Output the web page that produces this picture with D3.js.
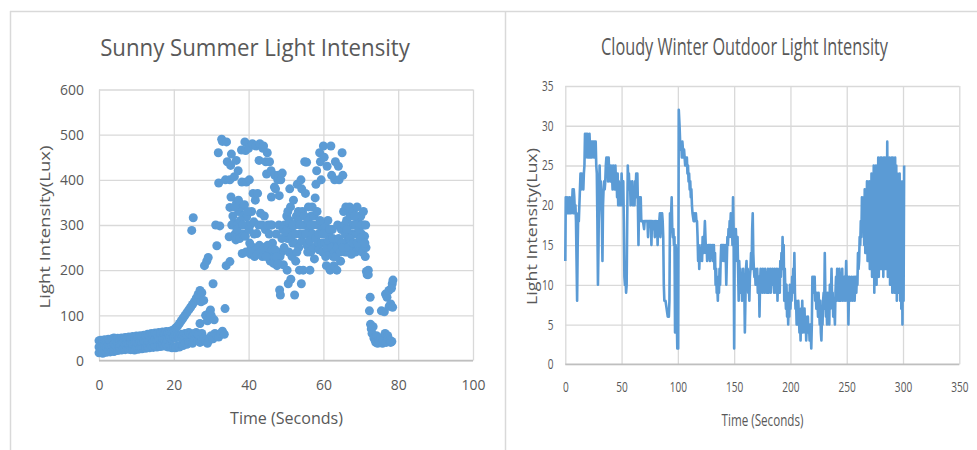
<!DOCTYPE html>
<html><head><meta charset="utf-8">
<script src="https://cdn.jsdelivr.net/npm/d3@7"></script>
<style>body{margin:0;background:#fff}svg{display:block}text{font-family:"Open Sans",sans-serif;fill:#595959}</style>
</head><body><svg id="c" width="977" height="450"></svg>
<script>
// ---- Sunny summer scatter data: [time (s), lux] ----
const sunnyEarly = [
[0,17],[0,30],[0,44],[0.5,20],[0.5,35],[0.5,45],[1,16],[1,28],[1,42],[1.5,22],[1.5,33],[1.5,46],
[2,18],[2,30],[2,43],[2.5,21],[2.5,36],[2.5,47],[3,19],[3,31],[3,44],[3.5,23],[3.5,34],[3.5,48],
[4,20],[4,37],[4,50],[4.5,24],[4.5,33],[4.5,46],[5,22],[5,38],[5,49],[5.5,25],[5.5,34],[5.5,47],
[6,23],[6,36],[6,50],[6.5,26],[6.5,39],[6.5,48],[7,24],[7,35],[7,51],[7.5,27],[7.5,38],[7.5,49],
[8,25],[8,36],[8,52],[8.5,24],[8.5,40],[8.5,50],[9,26],[9,37],[9,53],[9.5,23],[9.5,39],[9.5,51],
[10,27],[10,41],[10,54],[10.5,25],[10.5,38],[10.5,52],[11,28],[11,42],[11,55],[11.5,26],[11.5,40],[11.5,53],
[12,29],[12,43],[12,56],[12.5,27],[12.5,41],[12.5,55],[13,30],[13,44],[13,58],[13.5,28],[13.5,42],[13.5,57],
[14,31],[14,45],[14,60],[14.5,29],[14.5,43],[14.5,58],[15,32],[15,46],[15,61],[15.5,30],[15.5,44],[15.5,59],
[16,33],[16,47],[16,62],[16.5,31],[16.5,45],[16.5,60],[17,34],[17,48],[17,63],[17.5,32],[17.5,46],[17.5,61],
[18,35],[18,49],[18,64],[18.5,30],[18.5,47],[18.5,62],[19,33],[19,50],[19,65],[19.5,28],[19.5,48],[19.5,66],
[20,30],[20,52],[20,68]
];
const sunnyRise = [
[20.5,28],[20.5,50],[20.5,72],[21,32],[21,55],[21,76],[21.5,30],[21.5,52],[21.5,82],[22,35],[22,58],[22,88],
[22.5,33],[22.5,55],[22.5,94],[23,38],[23,60],[23,100],[23.5,36],[23.5,57],[23.5,106],[24,40],[24,62],[24,112],
[24.5,42],[24.5,58],[24.5,118],[24.8,288],[25,38],[25,55],[25,124],[25.2,316],[25.5,45],[25.5,60],[25.5,130],
[26,48],[26,62],[26,138],[26.5,44],[26.5,58],[26.5,146],[27,40],[27,82],[27,155],[27.3,130],[27.5,45],[27.5,60],
[27.5,150],[28,50],[28,133],[28.2,210],[28.5,42],[28.5,100],[28.8,220],[29,38],[29,88],[29.2,228],[29.5,45],
[29.5,106],[29.8,112],[30,55],[30,100],[30.5,170],[30.5,48],[30.8,90],[31,60],[31.2,300],[31.5,254],[31.5,55],
[32,52],[32,393],[31.9,460],[32.3,298],[32.5,60],[32.8,490],[33,65],[33,485],[33.5,58],[33.7,115],[33.8,400],
[34,210],[34.1,484],[34.3,440]
];
const sunnyPeak = [
[35,400],[35.2,432],[35.4,457],[35,339],[35.3,362],[34.8,274],[35,219],[35.5,300],
[36,304],[36.2,407],[36.4,280],[36.6,267],[36.7,443],[36.8,350],[37,300],[37.2,420],[37.4,330],[37.6,270],
[38,340],[38.2,395],[38.1,466],[38.3,237],[38.5,280],[38.7,320],
[39,484],[39.2,465],[39.4,395],[39.5,318],[39.3,240],[39.8,300],
[40,470],[40.2,400],[40.4,300],[40.3,260],[40.6,235],[40.8,330],
[41,480],[41.2,370],[41.4,307],[41.3,250],[41.6,230],[41.8,355],
[42,475],[42.2,281],[42.4,370],[42.5,250],[42.8,443],[42.7,300],
[43,480],[43.2,326],[43.4,250],[43.6,300],[43.8,470],
[44,475],[44.2,320],[44.4,240],[44.6,440],[44.8,413],[44.5,290],
[45,460],[45.2,300],[45.4,240],[45.6,440],[45.8,220],
[46,420],[46.2,300],[46.4,260],[46.6,230],[46.1,362],[46.9,384],
[47,410],[47.2,380],[47.4,280],[47.6,210],[47.8,400],
[48,410],[48.2,365],[48.4,230],[48.3,156],[48.6,400],[48.5,145],[48.8,240],[49,415],[49.3,212],[49.6,300],
[50,300],[50.2,320],[50.4,270],[50.3,200],[50.6,170],[50.8,240],
[51,380],[51.2,340],[51.4,290],[51.6,230],[51.3,180],[51.8,260],
[52,355],[52.2,300],[52.4,260],[52.6,220],[52.3,145],[52.8,320],
[53,390],[53.2,310],[53.4,250],[53.6,200],[53.8,280],
[54,400],[54.2,380],[54.4,330],[54.3,265],[54.1,170],[54.6,200],[54.8,300],
[55,440],[55.2,370],[55.4,300],[55.6,255],[55.8,240],[55.5,439],
[56,340],[56.2,290],[56.4,200],[56.6,240],[56.8,320],
[57,340],[57.2,300],[57.4,250],[57.6,225],[57.8,360],
[58,390],[58.2,420],[58.4,300],[58.6,260],[58.8,245],
[59,460],[59.2,440],[59.4,400],[59.6,290],[59.8,240],
[60,475],[60.2,450],[60.4,300],[60.6,230],[60.8,210],
[61,430],[61.2,310],[61.4,280],[61.6,240],[61.8,200],
[62,475],[62.2,410],[62.4,290],[62.6,230],[62.8,210],
[63,400],[63.2,440],[63.4,260],[63.6,200],[63.8,300],
[64,430],[64.2,400],[64.4,250],[64.6,220],[64.8,290],
[65,460],[65.2,410],[65.4,330],[65.6,300],[65.8,240],[65.5,260],
[66,340],[66.2,310],[66.4,240],[66.6,270],[66.8,330],
[67,340],[67.2,320],[67.4,250],[67.6,280],[67.8,300],
[68,330],[68.2,300],[68.4,260],[68.6,240],[68.8,280],
[69,340],[69.2,310],[69.4,280],[69.6,250],[69.8,320],
[70,320],[70.2,280],[70.4,240],[70.6,260],[70.8,300],
[71,275],[71.2,230],[71.4,250],[71.5,197],[71.7,190]
];
const sunnyFill = [
[35.8,320],[36.3,340],[36.9,290],[37.3,355],[37.8,310],[38.4,300],[38.9,345],[39.1,275],[39.7,330],[40.1,290],
[40.7,250],[41.1,240],[41.5,280],[41.9,245],[42.3,235],[42.9,255],[43.3,240],[43.7,230],[44.1,250],[44.7,230],
[45.1,255],[45.5,280],[45.9,300],[46.3,245],[46.7,215],[47.1,245],[47.5,230],[47.9,215],[48.1,300],[48.9,270],
[49.2,290],[49.5,250],[49.9,285],[50.5,330],[50.9,310],[51.5,275],[51.9,300],[52.5,280],[52.9,240],[53.3,330],
[53.7,300],[54.5,280],[54.9,320],[55.3,280],[55.9,310],[56.3,265],[56.7,300],[57.1,280],[57.5,320],[57.9,270],
[58.3,330],[58.7,280],[59.1,310],[59.5,260],[59.9,280],[60.3,260],[60.9,250],[61.3,265],[61.7,290],[62.1,250],
[62.5,270],[62.9,240],[63.3,230],[63.7,250],[64.1,270],[64.5,240],[64.9,260],[65.3,250],[65.9,280],[66.3,290],
[66.7,250],[67.1,270],[67.5,235],[67.9,260],[68.3,320],[68.7,300],[69.1,260],[69.5,290],[69.9,270],[70.3,300],
[70.7,330],[71.1,260],[71.3,300]
];
const sunnyFall = [
[72,190],[72,200],[72.5,140],[72.3,110],[72.6,80],[72.8,70],[73,60],[73.3,75],[73.5,50],[73.8,45],[74,40],
[74.2,55],[74.5,38],[74.8,45],[75,40],[75.3,50],[75.5,110],[75.8,38],[76,45],[76.3,108],[76.5,60],[76.6,147],
[76.8,40],[77,140],[77.2,55],[77.3,48],[77.5,155],[77.6,120],[77.8,45],[78,40],[78,125],[78.2,160],[78.4,170],
[78.6,178],[78.5,118],[78.3,42]
];
const sunnyXTicks = [0,20,40,60,80,100];
const sunnyYTicks = [0,100,200,300,400,500,600];

// ---- Cloudy winter line data: [time (s), lux] ----
const cloudyA = [
[0,13],[0.4,21],[1,19],[1.5,21],[2,19],[2.5,20],[3,19],[3.5,21],[4,19],[4.5,20],[5,19],[5.5,21],[6,20],[6.5,22],
[7,19],[7.5,22],[8,21],[8.5,19],[9,20],[9.5,18],[10,13],[10.5,8],[11,15],[11.5,19],[12,18],[12.5,20],[13,22],
[13.5,24],[14,22],[14.5,24],[15,23],[15.5,24],[16,22],[16.5,24],[17,25],[17.5,29],[18,26],[18.5,29],[19,27],
[19.5,29],[20,26],[20.5,28],[21,26],[21.5,29],[22,27],[22.5,26],[23,28],[23.5,26],[24,28],[24.5,27],[25,28],
[25.5,26],[26,28],[26.5,27],[27,28],[27.5,25],[28,24],[28.5,18],[29,10],[29.5,15],[30,22],[30.5,25],[31,21],
[31.5,23],[32,20],[32.5,18],[33,13],[33.5,20],[34,22],[34.5,23],[35,22],[35.5,23],[36,25],[36.5,26],[37,24],
[37.5,26],[38,23],[38.5,26],[39,24],[39.5,25],[40,23],[40.5,25],[41,23],[41.5,24],[42,22],[42.5,25],[43,23],
[43.5,24],[44,22],[44.5,25],[45,23],[45.5,24],[46,21],[46.5,24],[47,20],[47.5,23],[48,21],[48.5,20],[49,22],
[49.5,20],[50,24],[50.5,22],[51,20],[51.5,23],[52,18],[52.5,11],[53,10],[53.5,11],[54,9],[54.5,10],[55,18],
[55.5,25],[56,23],[56.5,24],[57,22],[57.5,23],[58,20],[58.5,22],[59,21],[59.5,23],[60,20],[60.5,22],[61,21],
[61.5,20],[62,23],[62.5,22],[63,24],[63.5,21],[64,24],[64.5,20],[65,15],[65.5,20],[66,21],[66.5,20],[67,21],
[67.5,18],[68,18],[69,18],[70,17],[70.5,18],[72,18],[73,18],[73.5,16],[74,18],[75,18],[76,18],[76.5,15],
[77,18],[78,17],[79,18],[79.5,16],[80,18],[81,17],[81.5,18],[82,15],[82.5,18],[83,17],[84,19],[84.5,16],
[85,19],[85.5,17],[86,19],[86.5,18],[87,16],[87.5,10],[88,8],[89,8],[90,7],[91,6],[92,6],[92.5,8],[93,19],
[93.5,18],[94,19],[94.5,21],[95,17],[95.5,16],[96,17],[96.5,15],[97,16],[97.5,4],[98,15],[98.5,14],[99,6],
[99.5,2],[100.3,2]
];
const cloudyB = [
[100.8,32],[101.5,30],[102,28],[102.5,27],[103,28],[103.5,26],[104,28],[104.5,27],[105,26],[105.5,27],[106,26],
[106.5,25],[107,26],[107.5,25],[108,26],[108.5,24],[109,25],[109.5,23],[110,24],[110.5,22],[111,23],[111.5,21],
[112,22],[112.5,20],[113,19],[114,18],[114.5,19],[115,18],[116,19],[116.5,18],[117,18],[117.5,16],[118,13],
[118.5,15],[119,12],[119.5,14],[120,13],[121,15],[121.5,13],[122,16],[123,14],[123.5,16],[124,18],[124.5,16],
[125,14],[125.5,15],[126,13],[127,15],[127.5,14],[128,15],[128.5,13],[129,15],[130,14],[130.5,15],[131,13],
[132,15],[132.5,12],[133,14],[133.5,10],[134,12],[134.5,9],[135,10],[135.5,8],[136,11],[136.5,9],[137,12],
[137.5,10],[138,13],[138.5,15],[139,13],[139.5,15],[140,14],[140.5,15],[141,13],[142,15],[142.5,14],[143,10],
[143.5,13],[144,16],[144.5,15],[145,17],[145.5,16],[146,18],[146.5,17],[147,19],[147.5,16],[148,18],[148.5,15],
[149,21],[149.5,17],[150,2],[150.5,16],[151,14],[151.5,17],[152,15],[152.5,13],[153,16],[153.5,12],[154,8],
[154.5,13],[155,11],[155.5,12],[156,9],[156.5,11],[157,8],[157.5,10],[158,12],[158.5,9],[159,10],[159.5,4],
[160,8],[160.5,12],[161,13],[161.5,10],[162,12],[162.5,9],[163,10],[163.5,8],[164,11],[164.5,12],[165,14],
[165.5,12],[166,17],[166.5,19],[167,14],[167.5,12],[168,11],[168.5,12],[169,10],[169.5,11],[170,10],[170.5,12],
[171,9],[171.5,10],[172,11],[172.5,6],[173,10],[173.5,12],[174,10],[174.5,11],[175,9],[175.5,12],[176,10],
[176.5,11],[177,9],[177.5,12],[178,10],[178.5,11],[179,9],[179.5,10],[180,12],[180.5,9],[181,11],[181.5,10],
[182,12],[182.5,9],[183,11],[183.5,10],[184,12],[184.5,10],[185,11],[185.5,9],[186,12],[186.5,10],[187,11],
[187.5,9]
];
const cloudyC = [
[188,12],[188.5,8],[189,11],[189.5,10],[190,12],[190.5,9],[191,13],[191.5,11],[192,14],[192.5,12],[193,16],
[193.5,13],[194,15],[194.5,8],[195,12],[195.5,9],[196,7],[196.5,10],[197,6],[197.5,9],[198,5],[198.5,8],[199,6],
[199.5,10],[200,7],[200.5,9],[201,8],[201.5,11],[202,9],[202.5,12],[203,10],[203.5,14],[204,9],[204.5,7],[205,8],
[205.5,5],[206,7],[206.5,5],[207,8],[207.5,6],[208,4],[208.5,6],[209,3],[209.5,7],[210,5],[210.5,8],[211,4],
[211.5,6],[212,5],[212.5,7],[213,4],[213.5,6],[214,3],[214.5,5],[215,4],[215.5,6],[216,4],[216.5,5],[217,3],
[217.5,5],[218,4],[218.5,2],[219,5],[219.5,11],[220,9],[220.5,11],[221,10],[221.5,11],[222,8],[222.5,9],[223,7],
[223.5,9],[224,8],[224.5,6],[225,9],[225.5,7],[226,5],[226.5,8],[227,4],[227.5,3],[228,6],[228.5,5],[229,8],
[229.5,9],[230,7],[230.5,14],[231,9],[231.5,6],[232,8],[232.5,5],[233,9],[233.5,6],[234,8],[234.5,5],[235,10],
[235.5,7],[236,9],[236.5,12],[237,8],[237.5,9],[238,6],[238.5,8],[239,7],[239.5,5],[240,9],[240.5,11],[241,8],
[241.5,12],[242,9],[242.5,11],[243,8],[243.5,12],[244,10],[244.5,8],[245,11],[245.5,9],[246,12],[246.5,8],
[247,10],[247.5,9],[248,11],[248.5,8],[249,10],[249.5,13],[250,10],[250.5,8],[251,11],[251.5,5],[252,9],
[252.5,11],[253,8],[253.5,10],[254,9],[254.5,11],[255,8],[255.5,10],[256,9],[256.5,11],[257,8],[257.5,10],
[258,11],[258.5,9],[259,11],[259.5,10],[260,14],[260.5,12],[261,13],[261.5,16],[262,15],[262.5,18],[263,16],
[263.5,21],[264,17],[264.5,20]
];
const cloudyD = [
[265,21],[265.5,15],[266,22],[266.5,14],[267,20],[267.5,16],[268,23],[268.5,13],[269,21],[269.5,15],[270,23],
[270.5,12],[271,22],[271.5,14],[272,24],[272.5,11],[273,23],[273.5,13],[274,25],[274.5,9],[275,24],[275.5,12],
[276,25],[276.5,10],[277,24],[277.5,13],[278,26],[278.5,11],[279,25],[279.5,14],[280,26],[280.5,12],[281,26],
[281.5,15],[282,25],[282.5,11],[283,26],[283.5,13],[284,26],[284.5,12],[285,25],[285.5,14],[286,28],[286.5,11],
[287,26],[287.5,13],[288,26],[288.5,10],[289,25],[289.5,12],[290,26],[290.5,9],[291,26],[291.5,11],[292,24],
[292.5,9],[293,26],[293.5,10],[294,25],[294.5,8],[295,24],[295.5,11],[296,23],[296.5,9],[297,24],[297.5,8],
[298,23],[298.5,7],[299,22],[299.5,5],[300,23],[300.5,8],[301,25]
];
const cloudyXTicks = [0,50,100,150,200,250,300,350];
const cloudyYTicks = [0,5,10,15,20,25,30,35];

const BLUE = "#5B9BD5", GRID = "#D9D9D9", AXIS = "#BFBFBF";
const svg = d3.select("#c");

function squeeze(sel, f){ sel.each(function(){ const w=this.getComputedTextLength(); this.setAttribute("textLength", w*f); this.setAttribute("lengthAdjust","spacingAndGlyphs"); }); }
// horizontally scale a centred text so that it spans width w
function scaleTo(sel, cx, cy, w, rot){
  sel.each(function(){
    const nat = this.getComputedTextLength();
    const k = w/nat;
    this.setAttribute("transform", rot ? `translate(${cx},${cy}) rotate(-90) scale(${k},1)` : `translate(${cx},${cy}) scale(${k},1)`);
  });
}

// panel frames
svg.append("line").attr("x1",10).attr("x2",977).attr("y1",11.5).attr("y2",11.5).attr("stroke",GRID).attr("stroke-width",1.5);
svg.append("line").attr("x1",10.5).attr("x2",10.5).attr("y1",11).attr("y2",450).attr("stroke",GRID).attr("stroke-width",1.5);
svg.append("line").attr("x1",505.5).attr("x2",505.5).attr("y1",11).attr("y2",450).attr("stroke",GRID).attr("stroke-width",1.5);

function panel(o){
  const x = d3.scaleLinear().domain(o.xd).range([o.x0,o.x1]);
  const y = d3.scaleLinear().domain(o.yd).range([o.y0,o.y1]);
  const g = svg.append("g");
  g.append("g").attr("transform",`translate(${o.x0},0)`)
    .call(d3.axisLeft(y).tickValues(o.yt).tickSize(-(o.x1-o.x0)).tickFormat(""))
    .call(s=>{s.select(".domain").remove(); s.selectAll("line").attr("stroke",GRID).attr("stroke-width",1.3);});
  g.append("g").attr("transform",`translate(0,${o.y0})`)
    .call(d3.axisBottom(x).tickValues(o.xt).tickSize(-(o.y0-o.y1)).tickFormat(""))
    .call(s=>{s.select(".domain").remove(); s.selectAll("line").attr("stroke",GRID).attr("stroke-width",1.3);});
  g.append("line").attr("x1",o.x0).attr("x2",o.x1).attr("y1",y(0)).attr("y2",y(0)).attr("stroke",AXIS).attr("stroke-width",1.5);
  const yl = g.append("g").attr("transform",`translate(${o.ylx},0)`)
    .call(d3.axisLeft(y).tickValues(o.yt).tickSize(0).tickPadding(0))
    .call(s=>s.select(".domain").remove());
  yl.selectAll("text").attr("font-size",o.tfs).attr("fill","#595959").attr("font-family","'Open Sans',sans-serif").call(squeeze,o.tsq);
  const xl = g.append("g").attr("transform",`translate(0,${o.xly})`)
    .call(d3.axisBottom(x).tickValues(o.xt).tickSize(0).tickPadding(0))
    .call(s=>s.select(".domain").remove());
  xl.selectAll("text").attr("font-size",o.tfs).attr("fill","#595959").attr("font-family","'Open Sans',sans-serif").attr("dy","0.35em").attr("y",0).call(squeeze,o.tsq);
  g.append("text").attr("text-anchor","middle").attr("font-size",o.tfsT).text(o.title).call(scaleTo,o.tx,o.ty,o.tw,false);
  g.append("text").attr("dy","0.35em").attr("text-anchor","middle").attr("font-size",17).text("Time (Seconds)").call(scaleTo,o.axx,o.axy,o.axw,false);
  g.append("text").attr("dy","0.35em").attr("text-anchor","middle").attr("font-size",15).text("Light Intensity(Lux)").call(scaleTo,o.ayx,o.ayy,o.ayw,true);
  return {x,y,g};
}

const L = panel({xd:[0,100],yd:[0,600],x0:99,x1:473,y0:360.5,y1:89.5,xt:sunnyXTicks,yt:sunnyYTicks,
  ylx:84,xly:384.5,tfs:15,tsq:0.93,title:"Sunny Summer Light Intensity",tfsT:24,tx:255,ty:56,tw:310,
  axx:286.5,axy:418,axw:113,ayx:45,ayy:227,ayw:163});
[sunnyEarly,sunnyRise,sunnyPeak,sunnyFill,sunnyFall].forEach(arr=>{
  L.g.append("g").selectAll("circle").data(arr).join("circle")
    .attr("cx",d=>L.x(d[0])).attr("cy",d=>L.y(d[1])).attr("r",4.5).attr("fill",BLUE);
});

const R = panel({xd:[0,350],yd:[0,35],x0:565.3,x1:959.3,y0:364.3,y1:86,xt:cloudyXTicks,yt:cloudyYTicks,
  ylx:553.5,xly:387.5,tfs:14,tsq:0.72,title:"Cloudy Winter Outdoor Light Intensity",tfsT:24,tx:744.5,ty:55,tw:287,
  axx:762.5,axy:420,axw:82,ayx:532,ayy:226.5,ayw:157});
const line = d3.line().x(d=>R.x(d[0])).y(d=>R.y(d[1]));
const cloudy = [].concat(cloudyA,cloudyB,cloudyC,cloudyD);
R.g.append("path").datum(cloudy).attr("d",line).attr("fill","none").attr("stroke",BLUE).attr("stroke-width",2.6).attr("stroke-linejoin","round");
</script></body></html>
